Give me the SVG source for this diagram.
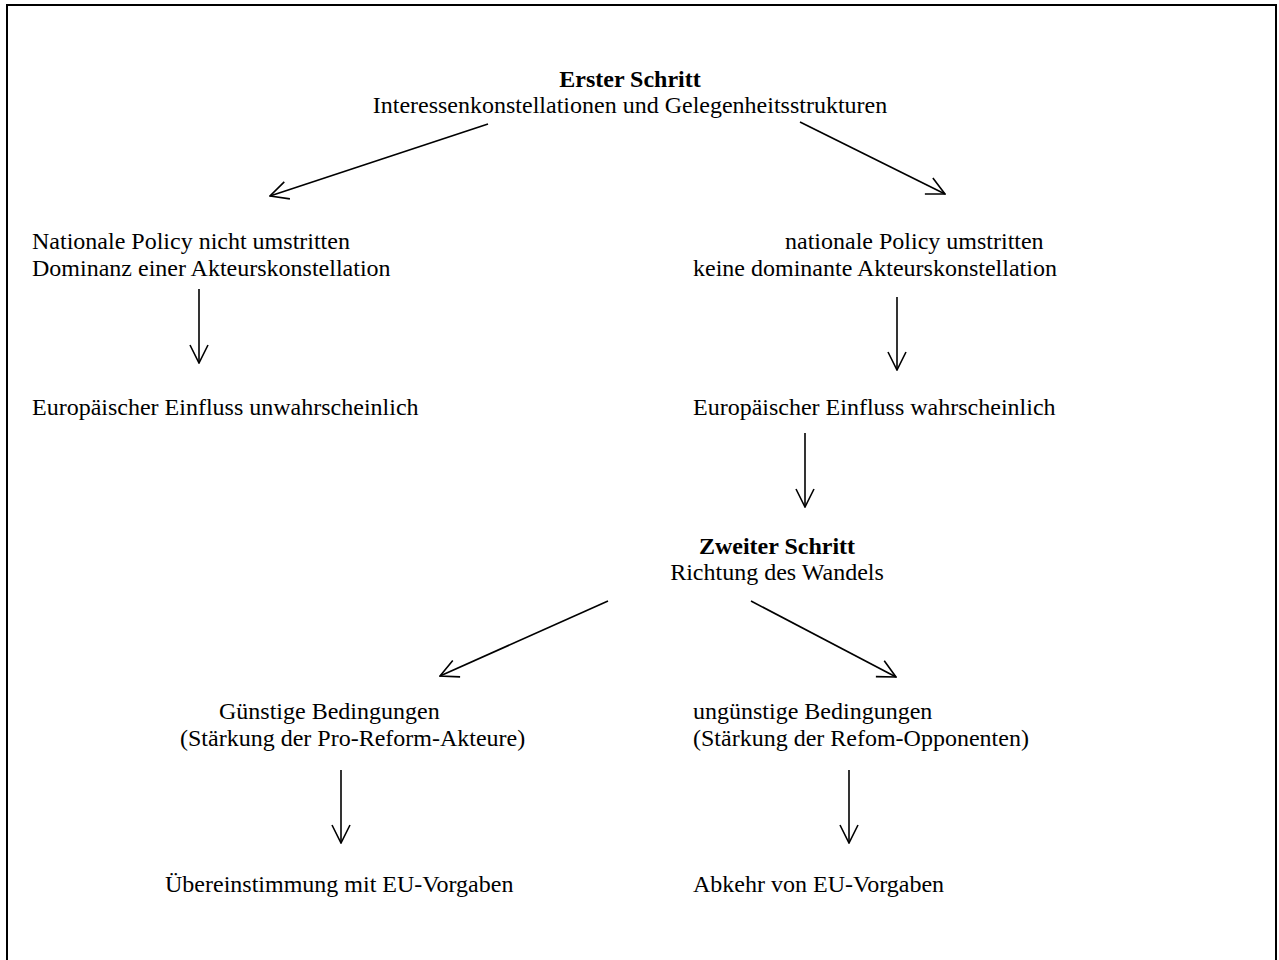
<svg xmlns="http://www.w3.org/2000/svg" width="1279" height="960" viewBox="0 0 1279 960">
  <defs>
    <style>
      text { font-family: "Liberation Serif", "Times New Roman", serif; font-size: 24px; fill: #000; }
      .b { font-weight: bold; }
      .c { text-anchor: middle; }
      .edge { stroke: #000; stroke-width: 1.6; fill: none; marker-end: url(#vhead); }
    </style>
    <marker id="vhead" viewBox="0 0 20 20" refX="19" refY="10" markerWidth="20" markerHeight="20" markerUnits="userSpaceOnUse" orient="auto">
      <path d="M1,1 L19,10 L1,19" fill="none" stroke="#000" stroke-width="1.6"/>
    </marker>
  </defs>
  <rect x="0" y="0" width="1279" height="960" fill="#fff"/>
  <rect id="frame" x="7" y="5" width="1269" height="970" fill="none" stroke="#000" stroke-width="2"/>

  <g id="step1">
    <text class="b c" x="630" y="87">Erster Schritt</text>
    <text class="c" x="630" y="113">Interessenkonstellationen und Gelegenheitsstrukturen</text>
  </g>
  <g id="not-contested">
    <text x="32" y="249">Nationale Policy nicht umstritten</text>
    <text x="32" y="276">Dominanz einer Akteurskonstellation</text>
  </g>
  <g id="contested">
    <text x="785" y="249">nationale Policy umstritten</text>
    <text x="693" y="276">keine dominante Akteurskonstellation</text>
  </g>
  <g id="unlikely">
    <text x="32" y="415">Europäischer Einfluss unwahrscheinlich</text>
  </g>
  <g id="likely">
    <text x="693" y="415">Europäischer Einfluss wahrscheinlich</text>
  </g>
  <g id="step2">
    <text class="b c" x="777" y="554">Zweiter Schritt</text>
    <text class="c" x="777" y="580">Richtung des Wandels</text>
  </g>
  <g id="favourable">
    <text x="219" y="719">Günstige Bedingungen</text>
    <text x="180" y="746">(Stärkung der Pro-Reform-Akteure)</text>
  </g>
  <g id="unfavourable">
    <text x="693" y="719">ungünstige Bedingungen</text>
    <text x="693" y="746">(Stärkung der Refom-Opponenten)</text>
  </g>
  <g id="conformity">
    <text x="165" y="892">Übereinstimmung mit EU-Vorgaben</text>
  </g>
  <g id="departure">
    <text x="693" y="892">Abkehr von EU-Vorgaben</text>
  </g>

  <g id="connectors">
    <line class="edge" x1="488" y1="124" x2="270" y2="196"/>
    <line class="edge" x1="800" y1="122" x2="945" y2="194"/>
    <line class="edge" x1="199" y1="289" x2="199" y2="363"/>
    <line class="edge" x1="897" y1="297" x2="897" y2="370"/>
    <line class="edge" x1="805" y1="433" x2="805" y2="507"/>
    <line class="edge" x1="608" y1="601" x2="440" y2="676"/>
    <line class="edge" x1="751" y1="601" x2="896" y2="677"/>
    <line class="edge" x1="341" y1="770" x2="341" y2="843"/>
    <line class="edge" x1="849" y1="770" x2="849" y2="843"/>
  </g>
</svg>
